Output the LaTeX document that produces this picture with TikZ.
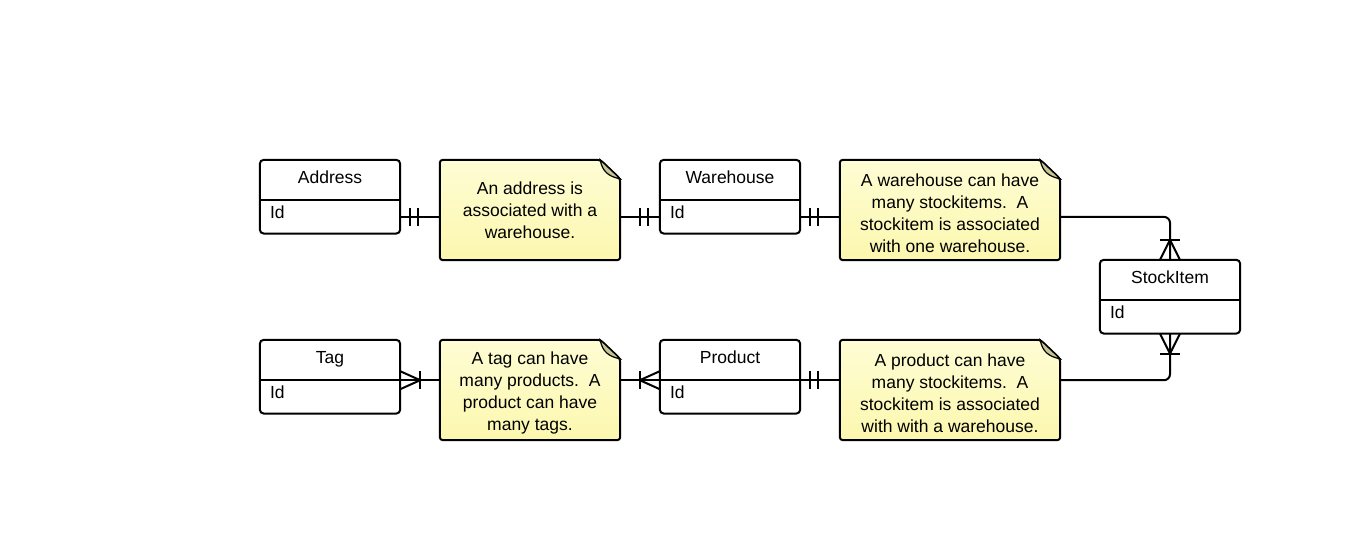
\documentclass[tikz,border=0pt]{standalone}
\usepackage{fontspec}
\setmainfont{Liberation Sans}
\usetikzlibrary{positioning,backgrounds}
\definecolor{notetop}{HTML}{FEFDD4}
\definecolor{notebottom}{HTML}{FCF7AE}
\definecolor{foldcol}{HTML}{C7C693}
\begin{document}
\begin{tikzpicture}[x=1pt, y=-1pt, font=\fontsize{17.5}{22}\selectfont,
		entity/.style={minimum width=140pt, minimum height=40pt, inner sep=0pt, text depth=5pt},
		row/.style={minimum width=140pt, minimum height=33pt, inner sep=0pt, text width=120pt, align=left, text depth=9pt},
		note/.style={minimum width=180pt, minimum height=100pt, inner sep=0pt, align=center},
		tallnote/.style={note, text height=84.5pt},
		notebox/.style={draw, line width=2pt, rounded corners=3pt, top color=notetop, bottom color=notebottom},
		fold/.style={draw, line width=1.2pt, fill=foldcol},
		link/.style={line width=2pt}]
	\useasboundingbox (0,0) rectangle (1360,540);
	\node[entity] (addr) at (330,180) {Address};
	\node[row, below=0pt of addr] (addr-id) {Id};
	\node[entity] (wh) at (730,180) {Warehouse};
	\node[row, below=0pt of wh] (wh-id) {Id};
	\node[entity] (stock) at (1170,280) {StockItem};
	\node[row, below=0pt of stock] (stock-id) {Id};
	\node[entity] (tag) at (330,360) {Tag};
	\node[row, below=0pt of tag] (tag-id) {Id};
	\node[entity] (prod) at (730,360) {Product};
	\node[row, below=0pt of prod] (prod-id) {Id};
	\foreach \e in {addr,wh,stock,tag,prod} {
		\draw[link, rounded corners=4pt] (\e.north west) rectangle (\e-id.south east);
		\draw[link] (\e.south west) -- (\e.south east);
	}
	\node[note] (n1) at (530,210) {An address is\\associated with a\\warehouse.};
	\node[tallnote, minimum width=220pt] (n2) at (950,210) {A warehouse can have\\many stockitems.\ \ A\\stockitem is associated\\with one warehouse.};
	\node[tallnote] (n3) at (530,390) {A tag can have\\many products.\ \ A\\product can have\\many tags.};
	\node[tallnote, minimum width=220pt] (n4) at (950,390) {A product can have\\many stockitems.\ \ A\\stockitem is associated\\with with a warehouse.};
	\begin{scope}[on background layer]
		\foreach \n in {n1,n2,n3,n4} {
			\path[notebox] (\n.north west) -- ([xshift=-20pt]\n.north east) -- ([yshift=-19pt]\n.north east) -- (\n.south east) -- (\n.south west) -- cycle;
			\path[fold] ([xshift=-20pt]\n.north east) .. controls ([xshift=-18pt, yshift=-12pt]\n.north east) and ([xshift=-11pt, yshift=-17pt]\n.north east) .. ([yshift=-19pt]\n.north east) -- cycle;
		}
	\end{scope}
	\draw[link] (addr-id.east) -- (addr-id.east -| n1.west);
	\draw[link] ([xshift=10pt]addr-id.east) ++(0,-9) -- ++(0,18);
	\draw[link] ([xshift=18pt]addr-id.east) ++(0,-9) -- ++(0,18);
	\draw[link] (n1.east |- wh-id.west) -- (wh-id.west);
	\draw[link] ([xshift=-12pt]wh-id.west) ++(0,-9) -- ++(0,18);
	\draw[link] ([xshift=-20pt]wh-id.west) ++(0,-9) -- ++(0,18);
	\draw[link] (wh-id.east) -- (wh-id.east -| n2.west);
	\draw[link] ([xshift=10pt]wh-id.east) ++(0,-9) -- ++(0,18);
	\draw[link] ([xshift=18pt]wh-id.east) ++(0,-9) -- ++(0,18);
	\draw[link, rounded corners=6pt] (n2.east |- wh-id.east) -| (stock.north);
	\draw[link] ([xshift=-10pt]stock.north) -- ([yshift=20pt]stock.north) -- ([xshift=10pt]stock.north);
	\draw[link] ([yshift=20pt]stock.north) ++(-10,0) -- ++(20,0);
	\draw[link, rounded corners=6pt] (stock-id.south) |- (n4.east |- prod.south);
	\draw[link] ([xshift=-10pt]stock-id.south) -- ([yshift=-20pt]stock-id.south) -- ([xshift=10pt]stock-id.south);
	\draw[link] ([yshift=-20pt]stock-id.south) ++(-10,0) -- ++(20,0);
	\draw[link] (prod.south east) -- (prod.south east -| n4.west);
	\draw[link] ([xshift=10pt]prod.south east) ++(0,-9) -- ++(0,18);
	\draw[link] ([xshift=18pt]prod.south east) ++(0,-9) -- ++(0,18);
	\draw[link] (n3.east |- prod.south west) -- (prod.south west);
	\draw[link] ([yshift=9pt]prod.south west) -- ([xshift=-20pt]prod.south west) -- ([yshift=-9pt]prod.south west);
	\draw[link] ([xshift=-20pt]prod.south west) ++(0,-9) -- ++(0,18);
	\draw[link] (tag.south east) -- (tag.south east -| n3.west);
	\draw[link] ([yshift=9pt]tag.south east) -- ([xshift=20pt]tag.south east) -- ([yshift=-9pt]tag.south east);
	\draw[link] ([xshift=20pt]tag.south east) ++(0,-9) -- ++(0,18);
\end{tikzpicture}
\end{document}
